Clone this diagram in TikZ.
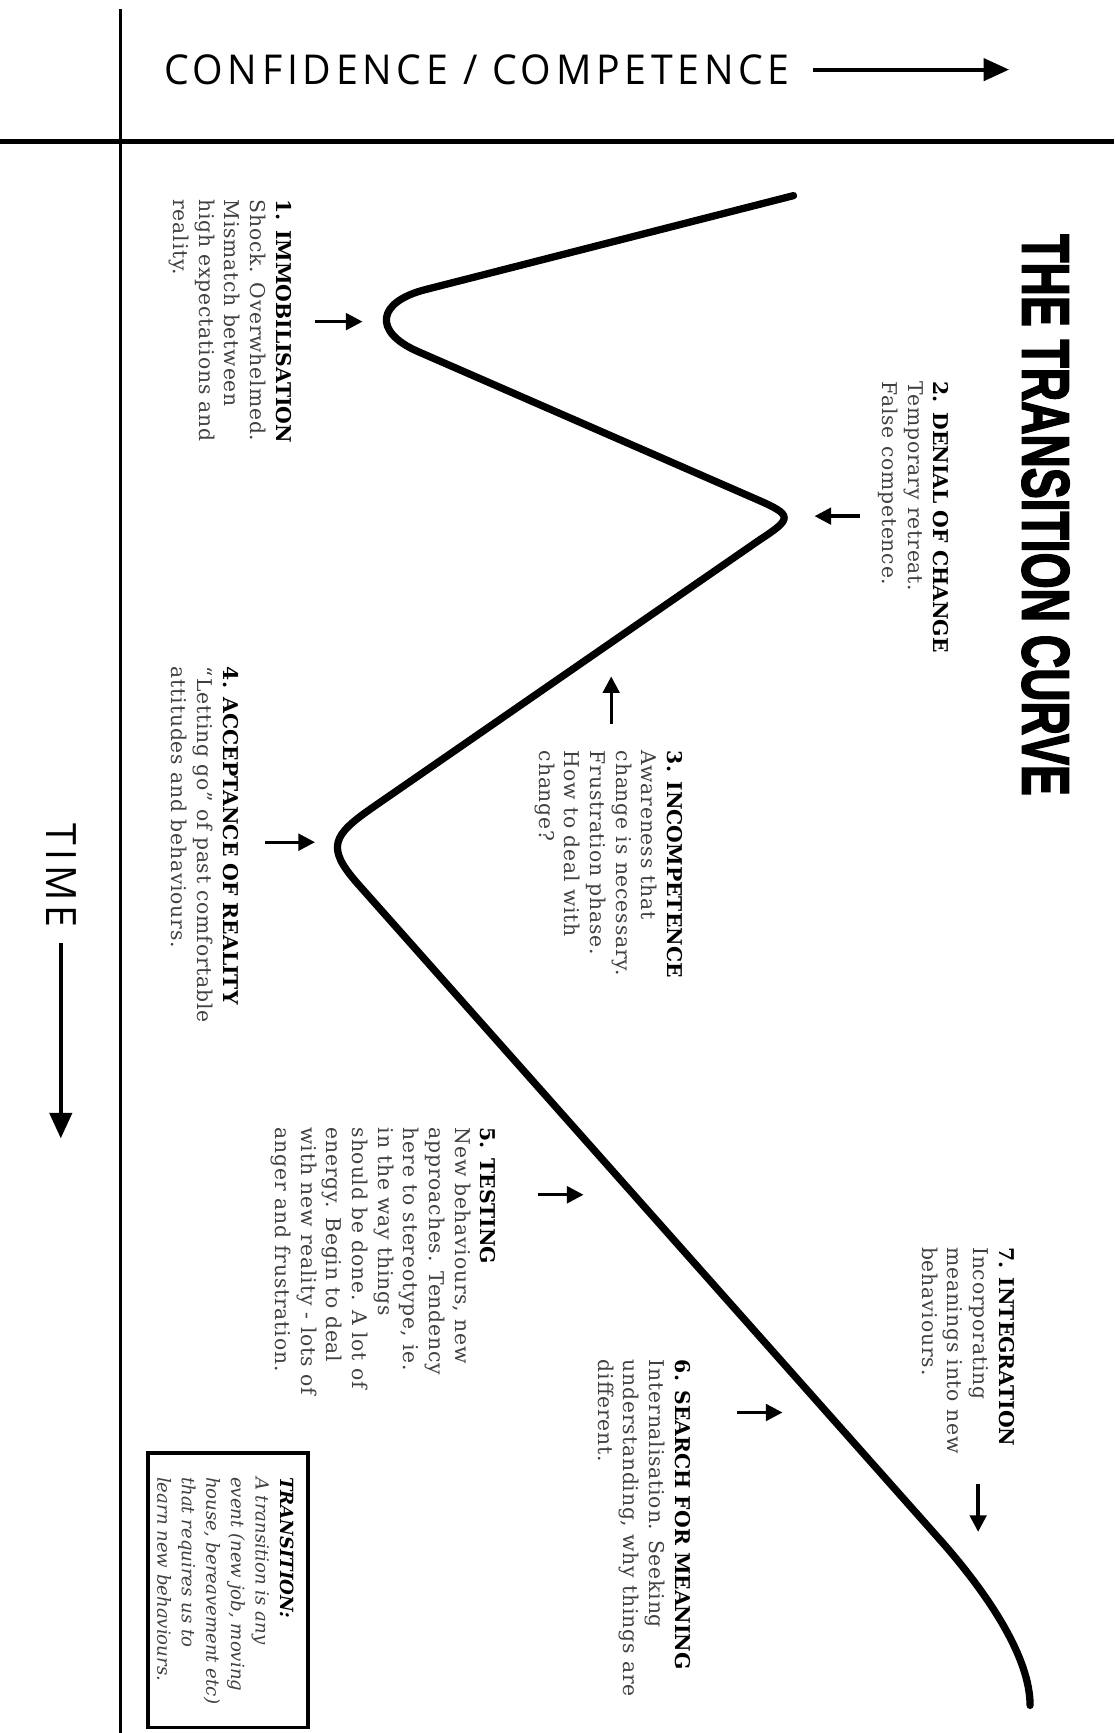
\documentclass[tikz,border=0pt]{standalone}
\usepackage{fontspec}
\usepackage{graphicx}
\setmainfont{DejaVu Serif}[UprightFeatures={LetterSpace=4}]
\newfontfamily\axisfont{Open Sans}[LetterSpace=12]
\newfontfamily\titlefont[FakeBold=3]{Liberation Sans}
\usetikzlibrary{arrows.meta}
\begin{document}
\begin{tikzpicture}[x=0.5pt,y=-0.5pt,
  body/.style={rotate=-90, anchor=north west, align=left, inner sep=0pt,
    font=\fontsize{9.2}{11.6}\selectfont, text=black!75},
  pointer/.style={line width=1.5pt, -{Triangle[length=7.5pt,width=7.5pt]}},
  axisarrow/.style={line width=1.8pt, -{Triangle[length=11.5pt,width=10pt]}},
  curveline/.style={line width=3.3pt, line cap=round, line join=round}]
\useasboundingbox[fill=white] (0,0) rectangle (1008,1568);

% axes
\coordinate (vtop) at (109,8);
\coordinate (vbot) at (109,1568);
\draw[line width=1.4pt] (vtop) -- (vbot);
\coordinate (hleft) at (0,128);
\coordinate (hright) at (1008,128);
\draw[line width=1.9pt] (hleft) -- (hright);

% confidence axis label
\node[anchor=west, inner sep=0pt] (conf) at (148,63.5)
  {\resizebox{283pt}{13.5pt}{\axisfont CONFIDENCE / COMPETENCE}};
\coordinate (confs) at (736,63);
\coordinate (confe) at (913,63);
\draw[axisarrow] (confs) -- (confe);

% time axis label
\node[rotate=-90, inner sep=0pt] (time) at (56,792)
  {\resizebox{47pt}{13.5pt}{\axisfont TIME}};
\coordinate (times) at (55,853);
\coordinate (timee) at (55,1030);
\draw[axisarrow] (times) -- (timee);

% title
\node[rotate=-90, inner sep=0pt] (title) at (946,466)
  {\resizebox{254pt}{21pt}{\titlefont\bfseries THE TRANSITION CURVE}};

% the curve
\draw[curveline] (718,177) -- (385,262)
  .. controls (341.4,273.1) and (336.8,299.9) .. (378,318)
  -- (685,452)
  .. controls (717,466) and (717.3,468.9) .. (688,488)
  -- (338,730)
  .. controls (301,755.6) and (294.1,766.3) .. (324,800)
  -- (853,1396)
  .. controls (895,1444) and (932,1500) .. (932,1543);

% stage texts
\node[body] (s1) at (264,180) {\textcolor{black}{\textbf{1. IMMOBILISATION}}\\Shock. Overwhelmed.\\Mismatch between\\high expectations and\\reality.};
\node[body] (s2) at (859,345) {\textcolor{black}{\textbf{2. DENIAL OF CHANGE}}\\Temporary retreat.\\False competence.};
\node[body] (s3) at (618,679) {\textcolor{black}{\textbf{3. INCOMPETENCE}}\\Awareness that\\change is necessary.\\Frustration phase.\\How to deal with\\change?};
\node[body] (s4) at (216,603) {\textcolor{black}{\textbf{4. ACCEPTANCE OF REALITY}}\\“Letting go” of past comfortable\\attitudes and behaviours.};
\node[body] (s5) at (449,1020) {\textcolor{black}{\textbf{5. TESTING}}\\New behaviours, new\\approaches. Tendency\\here to stereotype, ie.\\in the way things\\should be done. A lot of\\energy. Begin to deal\\with new reality - lots of\\anger and frustration.};
\node[body] (s6) at (625,1230) {\textcolor{black}{\textbf{6. SEARCH FOR MEANING}}\\Internalisation. Seeking\\understanding, why things are\\different.};
\node[body] (s7) at (918,1128) {\textcolor{black}{\textbf{7. INTEGRATION}}\\Incorporating\\meanings into new\\behaviours.};

% pointers
\coordinate (a1s) at (285,291); \coordinate (a1e) at (328,291);
\coordinate (a2s) at (778,467); \coordinate (a2e) at (737,467);
\coordinate (a3s) at (553,655); \coordinate (a3e) at (553,612);
\coordinate (a4s) at (240,762); \coordinate (a4e) at (285,762);
\coordinate (a5s) at (487,1081); \coordinate (a5e) at (528,1081);
\coordinate (a6s) at (667,1278); \coordinate (a6e) at (708,1278);
\coordinate (a7s) at (885,1343); \coordinate (a7e) at (885,1386);
\draw[pointer] (a1s) -- (a1e);
\draw[pointer] (a2s) -- (a2e);
\draw[pointer] (a3s) -- (a3e);
\draw[pointer] (a4s) -- (a4e);
\draw[pointer] (a5s) -- (a5e);
\draw[pointer] (a6s) -- (a6e);
\draw[pointer] (a7s) -- (a7e);

% transition box
\node[draw, line width=1.8pt, minimum width=72.5pt, minimum height=124pt, inner sep=0pt] (tbox) at (206.5,1439) {};
\node[body, font=\fontsize{8.2}{11.1}\selectfont\itshape] (tdef) at (266,1336)
  {\textcolor{black}{\textbf{TRANSITION:}}\\A transition is any\\event (new job, moving\\house, bereavement etc)\\that requires us to\\learn new behaviours.};
\end{tikzpicture}
\end{document}
